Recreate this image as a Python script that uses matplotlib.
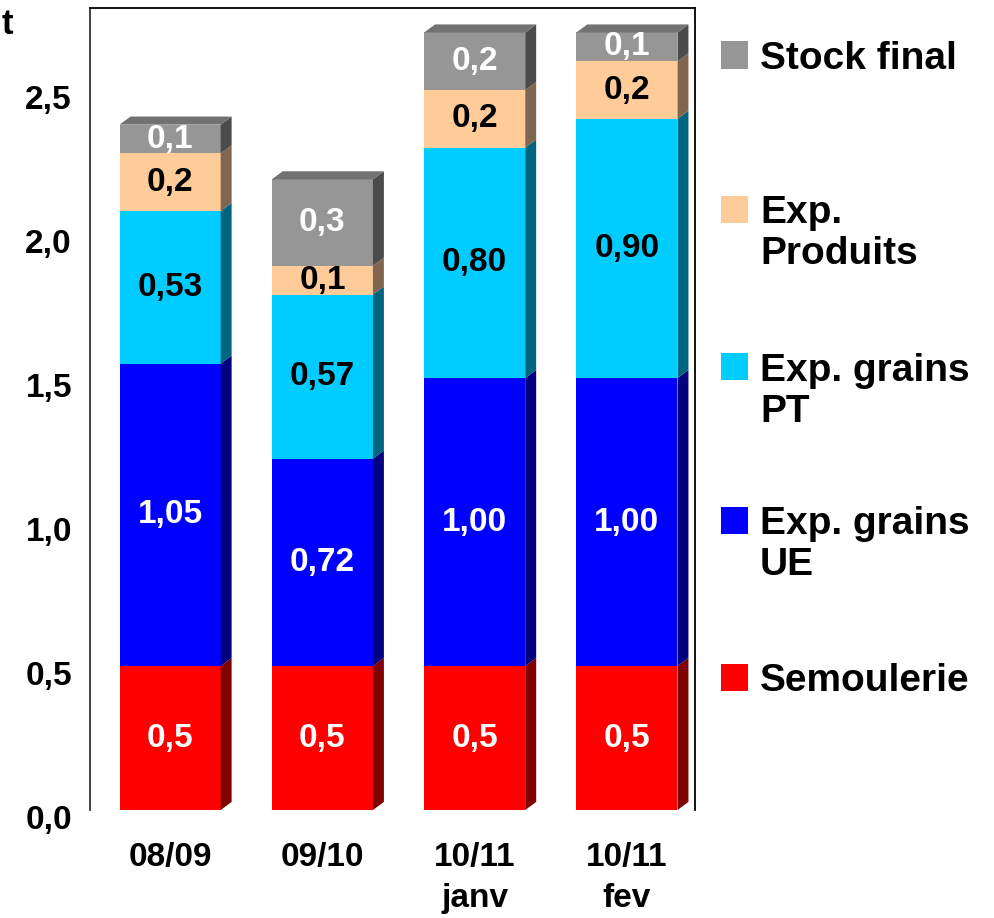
import numpy as np
import matplotlib.pyplot as plt
from matplotlib.patches import Polygon, Rectangle
from matplotlib.transforms import ScaledTranslation

plt.rcParams['font.family'] = ['Liberation Sans', 'DejaVu Sans']
plt.rcParams['font.weight'] = 'bold'

# campagnes
categories = ['08/09', '09/10', '10/11\njanv', '10/11\nfev']

# utilisations (Mt), du bas vers le haut de la pile
semoulerie = [0.5, 0.5, 0.5, 0.5]
grains_ue = [1.05, 0.72, 1.00, 1.00]
grains_pt = [0.53, 0.57, 0.80, 0.90]
exp_produits = [0.2, 0.1, 0.2, 0.2]
stock_final = [0.1, 0.3, 0.2, 0.1]

series = [
    # valeurs, libellé, face, côté, décimales, couleur du texte
    (semoulerie, 'Semoulerie', '#FF0000', '#800000', 1, 'white'),
    (grains_ue, 'Exp. grains\nUE', '#0000FF', '#000080', 2, 'white'),
    (grains_pt, 'Exp. grains\nPT', '#00CCFF', '#006680', 2, 'black'),
    (exp_produits, 'Exp.\nProduits', '#FFCC99', '#806650', 1, 'black'),
    (stock_final, 'Stock final', '#969696', '#4B4B4B', 1, 'white'),
]
top_color = '#727272'


def virgule(v, dec):
    return f'{v:.{dec}f}'.replace('.', ',')


W, H = 994, 918
fig = plt.figure(figsize=(W / 100, H / 100), dpi=100)
ax = fig.add_axes([90 / W, 1 - 810 / H, 605 / W, 802 / H])

x = np.arange(len(categories))
width = 0.664
dx, dy = 0.072, 0.028  # profondeur de l'effet 3D

bottom = np.zeros(len(categories))
for vals, name, face, side, dec, tc in series:
    vals = np.array(vals)
    ax.bar(x, vals, width, bottom=bottom, color=face, linewidth=0, zorder=2)
    for xi, b, v in zip(x, bottom, vals):
        xr = xi + width / 2
        ax.add_patch(Polygon([(xr, b), (xr + dx, b + dy), (xr + dx, b + v + dy), (xr, b + v)],
                             closed=True, facecolor=side, linewidth=0, zorder=2))
        ax.text(xi, b + v / 2, virgule(v, dec), ha='center', va='center',
                color=tc, fontsize=24, fontweight='bold', zorder=4)
    bottom += vals

# face supérieure
for xi, t in zip(x, bottom):
    xl, xr = xi - width / 2, xi + width / 2
    ax.add_patch(Polygon([(xl, t), (xl + dx, t + dy), (xr + dx, t + dy), (xr, t)],
                         closed=True, facecolor=top_color, linewidth=0, zorder=2))

ax.set_xlim(-0.526, 3.447)
ax.set_ylim(0, 2.785)

yt = np.arange(0, 2.51, 0.5)
ax.set_yticks(yt)
ax.set_yticklabels([virgule(v, 1) for v in yt], fontsize=24, fontweight='bold')
ax.set_xticks(x)
ax.set_xticklabels(categories, fontsize=24, fontweight='bold', linespacing=1.42)
ax.tick_params(axis='y', length=0, pad=13)
ax.tick_params(axis='x', length=0, pad=23)

# graduations légèrement sous leur niveau
shift = ScaledTranslation(0, -7 / 100, fig.dpi_scale_trans)
for lab in ax.get_yticklabels():
    lab.set_transform(lab.get_transform() + shift)

ax.spines['bottom'].set_visible(False)
ax.spines['left'].set_color('#333333')
for s in ['left', 'right', 'top']:
    ax.spines[s].set_linewidth(1.3)

fig.text(2 / W, 1 - 25 / H, 't', ha='left', va='center', fontsize=25, fontweight='bold')

# légende
leg_y = {'Stock final': 55, 'Exp.\nProduits': 209, 'Exp. grains\nPT': 367,
         'Exp. grains\nUE': 520, 'Semoulerie': 677}
sq = 27
for vals, name, face, side, dec, tc in series:
    yc = leg_y[name]
    fig.add_artist(Rectangle((721 / W, 1 - (yc + sq / 2) / H), sq / W, sq / H,
                             transform=fig.transFigure, facecolor=face, linewidth=0))
    fig.text(760 / W, 1 - (yc - 14) / H, name, ha='left', va='top',
             fontsize=28, fontweight='bold', linespacing=1.17)

fig.savefig('out.png', dpi=100, facecolor='white')
